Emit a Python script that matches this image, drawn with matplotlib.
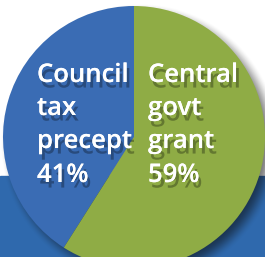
import numpy as np
import matplotlib
matplotlib.use("Agg")
import matplotlib.pyplot as plt
import matplotlib.patheffects as pe
from matplotlib.patches import Rectangle

labels = ["Council tax precept", "Central govt grant"]
values = [41, 59]
colors = ["#3a6cb4", "#8fac45"]
label_lines = [["Council", "tax", "precept"], ["Central", "govt", "grant"]]

W, H = 265, 257
fig = plt.figure(figsize=(W / 100, H / 100), dpi=100)
ax = fig.add_axes([0, 0, 1, 1])
ax.set_xlim(0, W)
ax.set_ylim(0, H)
ax.axis("off")

# background band
ax.add_patch(Rectangle((0, 0), W, H - 176, color="#2f69ad", zorder=0))

cx, cy, R = 134, H - 137, 131

# blurred drop shadow
yy, xx = np.mgrid[0:H, 0:W]
d = np.hypot(xx + 0.5 - (cx + 6), (H - yy - 0.5) - (cy - 6))
blur = 9.0
a = np.clip((R + blur - d) / (2 * blur), 0, 1)
a = a * a * (3 - 2 * a) * 0.55
rgba = np.zeros((H, W, 4))
rgba[..., 3] = a
rgba[..., 0:3] = 0.05
ax.imshow(rgba, extent=(0, W, 0, H), origin="upper", zorder=1, interpolation="bilinear")

ax.pie(values, colors=colors, startangle=90, counterclock=True,
       center=(cx, cy), radius=R, wedgeprops=dict(linewidth=0, zorder=2),
       frame=True)
ax.set_xlim(0, W)
ax.set_ylim(0, H)
ax.set_aspect("auto")
ax.axis("off")

shadow = [pe.withSimplePatchShadow(offset=(2, -4), shadow_rgbFace="black", alpha=0.3), pe.Normal()]
xs = [37, 148]
baselines = [82, 115, 148, 182]
for i in range(2):
    lines = label_lines[i] + [f"{values[i]}%"]
    for j, t in enumerate(lines):
        ax.text(xs[i], H - baselines[j], t, color="white", fontsize=18.5,
                family="Open Sans", fontweight="semibold", va="baseline", ha="left",
                zorder=5, path_effects=shadow)

fig.savefig("out.png", dpi=100)
